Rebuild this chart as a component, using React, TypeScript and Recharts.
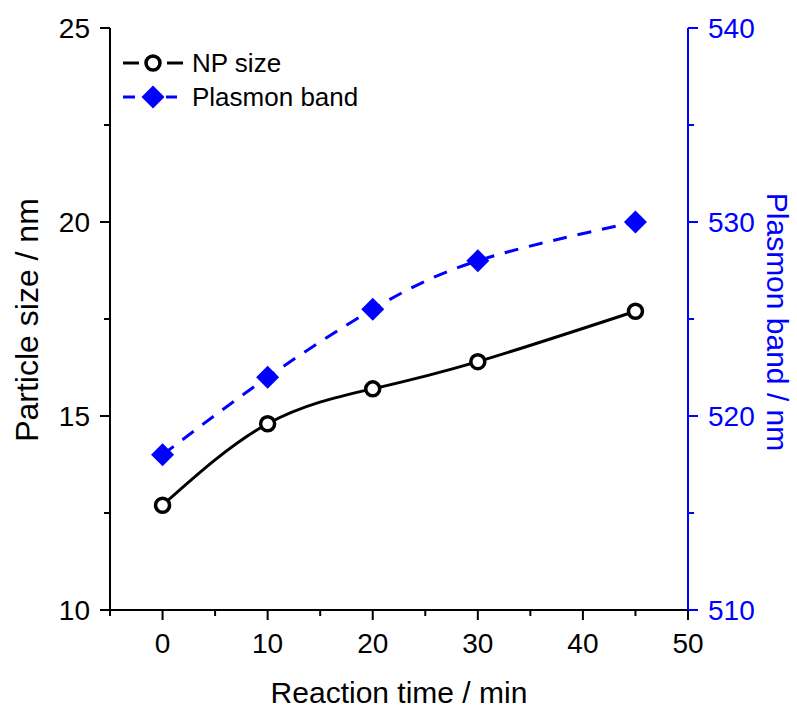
import { ComposedChart, Line, XAxis, YAxis } from "recharts";

// reaction time (min) vs NP size (nm) and plasmon band position (nm)
const times = [0, 10, 20, 30, 45];
const npSize = [12.7, 14.8, 15.7, 16.4, 17.7];
const plasmonBand = [518, 522, 525.5, 528, 530];

const xTicks = [-5, 0, 5, 10, 15, 20, 25, 30, 35, 40, 45, 50];
const xMajor = [0, 10, 20, 30, 40, 50];
const leftTicks = [10, 12.5, 15, 17.5, 20, 22.5, 25];
const leftMajor = [10, 15, 20, 25];
const rightTicks = [510, 515, 520, 525, 530, 535, 540];
const rightMajor = [510, 520, 530, 540];

const legendItems = ["NP size", "Plasmon band"];

const data = times.map((t, i) => ({ time: t, size: npSize[i], band: plasmonBand[i] }));

const BLUE = "#0000ff";
const FONT = '"Liberation Sans", Arial, Helvetica, sans-serif';
const W = 797;
const H = 711;

function BottomTick({ x, y, payload }: any) {
    const major = xMajor.includes(payload.value);
    return (
        <g>
            <line x1={x} y1={y} x2={x} y2={y + (major ? 10 : 6)} stroke="#000" strokeWidth={2} />
            {major && (
                <text x={x} y={y + 33} textAnchor="middle" dominantBaseline="central"
                    fontFamily={FONT} fontSize={28} fill="#000">
                    {payload.value}
                </text>
            )}
        </g>
    );
}

function LeftTick({ x, y, payload }: any) {
    const major = leftMajor.includes(payload.value);
    return (
        <g>
            <line x1={x} y1={y} x2={x - (major ? 10 : 6)} y2={y} stroke="#000" strokeWidth={2} />
            {major && (
                <text x={x - 20} y={y} textAnchor="end" dominantBaseline="central"
                    fontFamily={FONT} fontSize={28} fill="#000">
                    {payload.value}
                </text>
            )}
        </g>
    );
}

function RightTick({ x, y, payload }: any) {
    const major = rightMajor.includes(payload.value);
    return (
        <g>
            <line x1={x} y1={y} x2={x + (major ? 10 : 6)} y2={y} stroke={BLUE} strokeWidth={2} />
            {major && (
                <text x={x + 20} y={y} textAnchor="start" dominantBaseline="central"
                    fontFamily={FONT} fontSize={28} fill={BLUE}>
                    {payload.value}
                </text>
            )}
        </g>
    );
}

function CircleDot({ cx, cy }: any) {
    if (cx == null || cy == null) return null;
    return <circle cx={cx} cy={cy} r={7} fill="#fff" stroke="#000" strokeWidth={3.5} />;
}

function DiamondDot({ cx, cy }: any) {
    if (cx == null || cy == null) return null;
    const s = 11.5;
    return (
        <polygon
            points={`${cx},${cy - s} ${cx + s},${cy} ${cx},${cy + s} ${cx - s},${cy}`}
            fill={BLUE}
        />
    );
}

export default function App() {
    return (
        <div style={{ position: "absolute", left: 0, top: 0, width: W, height: H, background: "#fff" }}>
            <ComposedChart width={W} height={H} data={data} margin={{ top: 28, right: 0, left: 0, bottom: 0 }}>
                <XAxis
                    dataKey="time"
                    type="number"
                    domain={[-5, 50]}
                    ticks={xTicks}
                    interval={0}
                    height={101}
                    tickSize={0}
                    tickMargin={0}
                    tickLine={false}
                    axisLine={{ stroke: "#000", strokeWidth: 2 }}
                    tick={<BottomTick />}
                />
                <XAxis
                    xAxisId="top"
                    orientation="top"
                    dataKey="time"
                    type="number"
                    domain={[-5, 50]}
                    height={0}
                    tick={false}
                    tickLine={false}
                    axisLine={{ stroke: "#000", strokeWidth: 2 }}
                />
                <YAxis
                    yAxisId="left"
                    type="number"
                    domain={[10, 25]}
                    ticks={leftTicks}
                    interval={0}
                    width={110}
                    tickSize={0}
                    tickMargin={0}
                    tickLine={false}
                    axisLine={{ stroke: "#000", strokeWidth: 2 }}
                    tick={<LeftTick />}
                />
                <YAxis
                    yAxisId="right"
                    orientation="right"
                    type="number"
                    domain={[510, 540]}
                    ticks={rightTicks}
                    interval={0}
                    width={109}
                    tickSize={0}
                    tickMargin={0}
                    tickLine={false}
                    axisLine={{ stroke: BLUE, strokeWidth: 2 }}
                    tick={<RightTick />}
                />
                <Line
                    yAxisId="left"
                    dataKey="size"
                    type="natural"
                    stroke="#000"
                    strokeWidth={3}
                    dot={<CircleDot />}
                    activeDot={false}
                    isAnimationActive={false}
                />
                <Line
                    yAxisId="right"
                    dataKey="band"
                    type="natural"
                    stroke={BLUE}
                    strokeWidth={3}
                    strokeDasharray="14 11"
                    dot={<DiamondDot />}
                    activeDot={false}
                    isAnimationActive={false}
                />
            </ComposedChart>
            <svg width={W} height={H} style={{ position: "absolute", left: 0, top: 0, pointerEvents: "none" }}>
                <text x={399} y={692} textAnchor="middle" dominantBaseline="central"
                    fontFamily={FONT} fontSize={30} fill="#000">
                    Reaction time / min
                </text>
                <text transform="translate(27,320) rotate(-90)" textAnchor="middle" dominantBaseline="central"
                    fontFamily={FONT} fontSize={32} fill="#000">
                    Particle size / nm
                </text>
                <text transform="translate(777,322) rotate(90)" textAnchor="middle" dominantBaseline="central"
                    fontFamily={FONT} fontSize={30} fill={BLUE}>
                    Plasmon band / nm
                </text>
                {/* legend */}
                <g>
                    <line x1={123} y1={63} x2={139} y2={63} stroke="#000" strokeWidth={3} />
                    <line x1={167} y1={63} x2={183} y2={63} stroke="#000" strokeWidth={3} />
                    <circle cx={153} cy={63} r={7} fill="#fff" stroke="#000" strokeWidth={3.5} />
                    <text x={192} y={63} dominantBaseline="central" fontFamily={FONT} fontSize={26} fill="#000">
                        {legendItems[0]}
                    </text>
                    <line x1={123} y1={97} x2={135} y2={97} stroke={BLUE} strokeWidth={3} />
                    <line x1={166} y1={97} x2={177} y2={97} stroke={BLUE} strokeWidth={3} />
                    <polygon points="153,85.5 164.5,97 153,108.5 141.5,97" fill={BLUE} />
                    <text x={192} y={97} dominantBaseline="central" fontFamily={FONT} fontSize={26} fill="#000">
                        {legendItems[1]}
                    </text>
                </g>
            </svg>
        </div>
    );
}
